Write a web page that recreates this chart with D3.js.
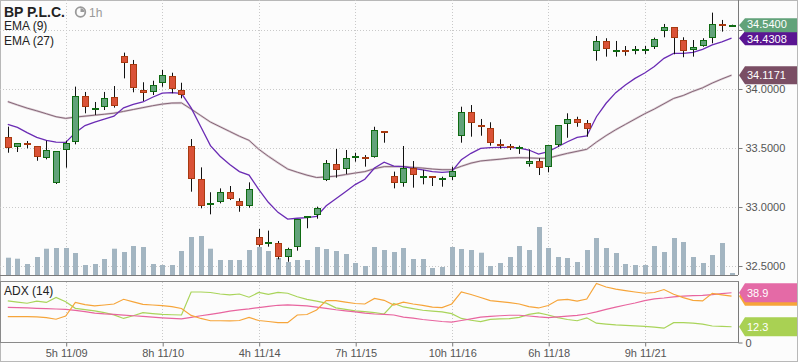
<!DOCTYPE html>
<html>
<head>
<meta charset="utf-8">
<script src="https://cdn.jsdelivr.net/npm/d3@7"></script>
<style>
  body { margin: 0; background: #fff; }
  svg { display: block; font-family: "Liberation Sans", Arial, sans-serif; }
</style>
</head>
<body>
<div id="graphic"></div>
<script>
// bp plc, 1h candles with ema(9), ema(27), volume and adx(14)
const tickIdx = [6, 16, 26, 36, 46, 56, 66];
const tickLabels = ["5h 11/09", "8h 11/10", "4h 11/14", "7h 11/15", "10h 11/16", "6h 11/18", "9h 11/21"];
const priceTicks = [32.5, 33.0, 33.5, 34.0, 34.5];

const opens = [33.591,33.506,33.540,33.514,33.413,33.200,33.483,33.548,33.938,33.835,
  33.845,33.930,34.280,34.212,33.992,33.972,34.048,34.110,33.992,33.517,
  33.237,33.014,33.045,33.130,33.048,33.003,32.748,32.690,32.692,32.574,
  32.658,32.907,32.930,33.229,33.362,33.319,33.418,33.424,33.426,33.644,
  33.263,33.200,33.328,33.252,33.260,33.235,33.252,33.602,33.803,33.695,
  33.667,33.531,33.517,33.497,33.358,33.387,33.333,33.525,33.701,33.743,
  33.709,34.316,34.404,34.314,34.330,34.325,34.322,34.353,34.486,34.523,
  34.413,34.325,34.367,34.430,34.551,34.535];
const highs = [33.681,33.540,33.559,33.517,33.562,33.474,33.562,34.020,33.975,33.890,
  33.975,34.025,34.308,34.246,34.057,34.070,34.161,34.138,34.053,33.576,
  33.336,33.125,33.158,33.178,33.074,33.209,32.814,32.800,32.712,32.655,
  32.896,32.924,33.003,33.398,33.492,33.483,33.460,33.440,33.680,33.644,
  33.300,33.517,33.390,33.314,33.260,33.257,33.342,33.850,33.864,33.746,
  33.718,33.574,33.534,33.520,33.489,33.413,33.523,33.692,33.794,33.765,
  33.737,34.449,34.430,34.407,34.364,34.364,34.364,34.435,34.551,34.523,
  34.438,34.415,34.430,34.647,34.585,34.545];
const lows = [33.460,33.466,33.497,33.392,33.404,33.195,33.333,33.531,33.794,33.780,
  33.822,33.842,34.090,33.972,33.898,33.949,34.019,33.964,33.921,33.130,
  32.989,32.938,33.031,33.059,32.960,32.994,32.664,32.664,32.557,32.536,
  32.630,32.820,32.901,33.220,33.248,33.280,33.384,33.342,33.418,33.545,
  33.158,33.172,33.164,33.192,33.178,33.172,33.229,33.545,33.596,33.604,
  33.520,33.494,33.483,33.450,33.342,33.271,33.294,33.511,33.587,33.680,
  33.596,34.240,34.274,34.274,34.282,34.294,34.297,34.339,34.438,34.294,
  34.269,34.274,34.358,34.387,34.486,34.533];
const closes = [33.494,33.540,33.523,33.421,33.480,33.472,33.540,33.938,33.845,33.840,
  33.921,33.850,34.218,34.006,33.964,34.034,34.119,33.997,33.947,33.235,
  33.011,33.031,33.130,33.074,33.003,33.150,32.684,32.703,32.574,32.642,
  32.896,32.924,32.989,33.370,33.308,33.413,33.430,33.412,33.653,33.630,
  33.200,33.328,33.265,33.263,33.250,33.243,33.305,33.803,33.709,33.684,
  33.540,33.519,33.506,33.511,33.387,33.328,33.523,33.692,33.746,33.709,
  33.658,34.404,34.336,34.330,34.316,34.339,34.339,34.421,34.523,34.430,
  34.316,34.353,34.415,34.548,34.540,34.540];
// volume in thousands of shares
const volumes = [346,326,220,360,526,540,540,440,200,220,
  320,526,460,580,560,220,200,200,480,760,
  780,526,300,300,300,500,560,480,340,260,
  300,300,560,520,480,420,240,180,560,500,
  460,540,320,320,140,160,560,520,500,446,
  180,240,360,580,500,960,540,360,340,260,
  500,740,540,440,220,200,200,580,460,740,
  660,360,240,400,640,40];
const ema9 = [33.700,33.675,33.630,33.590,33.565,33.550,33.548,33.630,33.690,33.720,
  33.745,33.770,33.840,33.870,33.890,33.930,33.965,33.970,33.962,33.840,
  33.680,33.520,33.430,33.360,33.300,33.270,33.150,33.040,32.955,32.898,
  32.905,32.910,32.920,33.010,33.070,33.130,33.190,33.235,33.330,33.380,
  33.347,33.342,33.328,33.314,33.300,33.294,33.300,33.400,33.455,33.497,
  33.503,33.505,33.506,33.500,33.483,33.449,33.469,33.511,33.553,33.590,
  33.602,33.765,33.879,33.969,34.034,34.090,34.135,34.190,34.260,34.302,
  34.302,34.310,34.336,34.373,34.400,34.4308];
const ema27 = [33.893,33.865,33.838,33.815,33.790,33.765,33.751,33.762,33.770,33.778,
  33.786,33.795,33.810,33.826,33.842,33.858,33.872,33.881,33.882,33.830,
  33.775,33.720,33.680,33.640,33.600,33.565,33.490,33.430,33.375,33.322,
  33.295,33.270,33.250,33.255,33.262,33.275,33.288,33.300,33.325,33.342,
  33.342,33.342,33.336,33.330,33.322,33.316,33.316,33.345,33.372,33.390,
  33.398,33.405,33.415,33.418,33.416,33.413,33.413,33.435,33.455,33.472,
  33.489,33.550,33.605,33.655,33.700,33.745,33.790,33.830,33.875,33.920,
  33.945,33.980,34.010,34.050,34.085,34.1171];
const adx = [27.4,27.2,27.0,26.7,26.5,26.2,25.9,25.1,24.1,23.0,
  22.4,22.0,21.4,20.9,20.4,19.8,19.3,18.8,18.4,19.7,
  20.9,22.0,23.2,24.5,25.5,26.3,27.3,28.2,29.1,29.4,
  29.0,28.6,27.7,26.7,25.6,24.8,23.9,23.0,22.3,22.0,
  21.5,19.9,19.0,18.0,17.2,16.4,15.9,17.2,18.5,19.9,
  20.5,20.9,21.3,21.3,20.7,20.0,19.5,20.0,20.6,21.2,
  22.3,24.0,25.9,27.7,29.3,30.9,32.8,34.1,34.8,35.7,
  36.3,36.6,36.8,37.4,38.2,38.9];
const plusDI = [20.2,20.2,20.2,20.1,19.5,18.2,20.7,31.3,29.6,28.6,
  29.3,30.1,33.8,31.8,29.8,29.3,28.8,28.1,26.6,21.2,
  18.8,17.0,17.0,16.9,17.2,19.6,17.2,16.4,15.6,15.5,
  21.5,21.9,25.4,32.7,32.7,31.6,30.5,30.1,34.4,33.0,
  29.3,31.5,30.1,29.0,27.6,27.3,30.1,39.5,37.5,35.2,
  32.7,32.0,31.2,30.1,28.1,27.0,28.9,33.2,33.7,32.3,
  34.0,46.1,43.4,41.8,40.6,39.5,38.5,39.1,41.4,37.7,
  35.1,33.0,32.5,38.4,37.3,36.2];
const minusDI = [32.5,31.6,30.7,32.3,31.3,35.2,31.8,26.7,25.7,24.7,
  23.4,21.6,18.8,20.9,23.3,22.6,22.0,21.7,21.5,39.5,
  39.5,39.1,37.9,37.3,37.9,35.4,39.1,37.7,39.2,38.5,
  35.8,33.7,32.4,30.8,27.1,25.9,24.8,24.2,23.3,22.3,
  30.5,27.8,26.5,25.2,24.6,24.0,22.6,18.8,17.4,16.3,
  18.1,18.4,18.7,19.7,22.0,23.2,21.5,19.5,18.0,17.0,
  19.3,15.1,14.4,13.8,13.4,13.0,12.6,12.0,11.2,15.5,
  15.5,15.1,14.4,12.9,12.6,12.3];

const bars = closes.map((c, i) => ({ i: i, o: opens[i], h: highs[i], l: lows[i], c: c, v: volumes[i] }));

const candleChart = {
  el: "#graphic",
  outerWidth: 798,
  outerHeight: 363,
  plotRight: 738,
  mainBottom: 275,
  adxTop: 282,
  adxBottom: 342.5,
  up: { fill: "#62a27a", stroke: "#0f6b12" },
  down: { fill: "#da5237", stroke: "#a83a10" },
  createScales(){
    this.x = d3.scaleLinear()
      .domain([-0.808, 75.67])
      .range([0, this.plotRight]);
    this.y = d3.scaleLinear()
      .domain([32.424, 34.754])
      .range([this.mainBottom, 0]);
    this.yVol = d3.scaleLinear()
      .domain([0, 960])
      .range([this.mainBottom, this.mainBottom - 48]);
    this.yAdx = d3.scaleLinear()
      .domain([0, 47.3])
      .range([this.adxBottom, this.adxTop]);
  },
  drawPlot(){
    document.querySelector(this.el).innerHTML = "";
    this.svg = d3.select(this.el)
      .append("svg")
      .attr("width", this.outerWidth)
      .attr("height", this.outerHeight);
    this.svg.append("rect")
      .attr("x", 0.5).attr("y", 0.5)
      .attr("width", this.outerWidth - 1).attr("height", 361)
      .attr("fill", "#fcfcfc")
      .attr("stroke", "#b8b8b8");
    this.svg.append("clipPath").attr("id", "mainClip")
      .append("rect").attr("x", 1).attr("y", 1)
      .attr("width", this.plotRight - 1).attr("height", this.mainBottom - 1);
  },
  drawGrid(){
    const that = this;
    const grid = this.svg.append("g")
      .attr("stroke", "#c9c9c9")
      .attr("stroke-dasharray", "1,2");
    grid.selectAll("line.h")
      .data(priceTicks)
      .enter().append("line")
      .attr("class", "h")
      .attr("x1", 0).attr("x2", this.plotRight)
      .attr("y1", d => Math.round(that.y(d)) + 0.5)
      .attr("y2", d => Math.round(that.y(d)) + 0.5);
    [[0, this.mainBottom], [this.adxTop, this.adxBottom]].forEach(function(span){
      grid.append("g").selectAll("line")
        .data(tickIdx)
        .enter().append("line")
        .attr("x1", d => Math.round(that.x(d)) + 0.5)
        .attr("x2", d => Math.round(that.x(d)) + 0.5)
        .attr("y1", span[0]).attr("y2", span[1]);
    });
  },
  drawVolume(){
    const that = this;
    this.svg.append("g")
      .attr("clip-path", "url(#mainClip)")
      .selectAll("rect")
      .data(bars)
      .enter().append("rect")
      .attr("x", d => Math.round(that.x(d.i)) - 2)
      .attr("width", 5)
      .attr("y", d => that.yVol(d.v))
      .attr("height", d => that.mainBottom - that.yVol(d.v))
      .attr("fill", "#a3b5c1");
  },
  drawLines(){
    const that = this;
    const g = this.svg.append("g").attr("clip-path", "url(#mainClip)").attr("fill", "none");
    const line = d3.line().x((d, i) => that.x(i)).y(d => that.y(d));
    g.append("path").attr("d", line(ema27))
      .attr("stroke", "#dccdd4").attr("stroke-width", 2.2);
    g.append("path").attr("d", line(ema27))
      .attr("stroke", "#866879").attr("stroke-width", 1);
    g.append("path").attr("d", line(ema9))
      .attr("stroke", "#6a2bb4").attr("stroke-width", 1.3);
  },
  drawCandles(){
    const that = this;
    const g = this.svg.append("g").attr("clip-path", "url(#mainClip)");
    const c = g.selectAll("g")
      .data(bars)
      .enter().append("g");
    c.append("line")
      .attr("x1", d => Math.round(that.x(d.i)) + 0.5)
      .attr("x2", d => Math.round(that.x(d.i)) + 0.5)
      .attr("y1", d => that.y(d.h))
      .attr("y2", d => that.y(d.l))
      .attr("stroke", "#111");
    c.append("rect")
      .attr("x", d => Math.round(that.x(d.i)) - 2.5)
      .attr("width", 6)
      .attr("y", d => Math.round(that.y(Math.max(d.o, d.c))) + 0.5)
      .attr("height", d => Math.max(1, Math.round(Math.abs(that.y(d.o) - that.y(d.c))) - 1))
      .attr("fill", d => d.c >= d.o ? that.up.fill : that.down.fill)
      .attr("stroke", d => d.c >= d.o ? that.up.stroke : that.down.stroke);
  },
  drawAdx(){
    const that = this;
    this.svg.append("rect")
      .attr("x", 0.5).attr("y", this.adxTop - 0.5)
      .attr("width", this.plotRight).attr("height", this.adxBottom - this.adxTop + 0.5)
      .attr("fill", "none").attr("stroke", "#8a8a8a");
    const line = d3.line().x((d, i) => that.x(i)).y(d => that.yAdx(d));
    const g = this.svg.append("g").attr("fill", "none").attr("stroke-width", 1.2);
    g.append("path").attr("d", line(minusDI)).attr("stroke", "#a9d45a");
    g.append("path").attr("d", line(adx)).attr("stroke", "#e8659f");
    g.append("path").attr("d", line(plusDI)).attr("stroke", "#f6a53a");
  },
  drawAxes(){
    const that = this;
    this.svg.append("line")
      .attr("x1", 0).attr("x2", this.plotRight)
      .attr("y1", this.mainBottom + 0.5).attr("y2", this.mainBottom + 0.5)
      .attr("stroke", "#7a7a7a");

    // the 34.5 label sits under the last price tag, so only its tick shows
    const lastClose = closes[closes.length - 1];
    const yAxis = d3.axisRight(this.y)
      .tickValues(priceTicks)
      .tickFormat(d => Math.abs(d - lastClose) < 0.1 ? "" : d3.format(".4f")(d))
      .tickSize(4)
      .tickSizeOuter(0);
    const ay = this.svg.append("g")
      .attr("class", "axis yaxis")
      .attr("transform", `translate(${this.plotRight + 0.5},0)`)
      .call(yAxis);

    const adxAxis = d3.axisRight(this.yAdx)
      .tickValues([0])
      .tickSize(4)
      .tickSizeOuter(0);
    const aa = this.svg.append("g")
      .attr("class", "axis adxaxis")
      .attr("transform", `translate(${this.plotRight + 0.5},0)`)
      .call(adxAxis);

    const xAxis = d3.axisBottom(this.x)
      .tickValues(tickIdx)
      .tickFormat((d, i) => tickLabels[i])
      .tickSize(4)
      .tickSizeOuter(0);
    const ax = this.svg.append("g")
      .attr("class", "axis xaxis")
      .attr("transform", `translate(0.5,${this.adxBottom})`)
      .call(xAxis);
    ax.select(".domain").remove();

    [ay, aa, ax].forEach(function(a){
      a.selectAll(".domain").attr("stroke", "#7a7a7a");
      a.selectAll(".tick line").attr("stroke", "#7a7a7a");
      a.selectAll(".tick text")
        .attr("fill", "#555")
        .style("font-size", "11px")
        .style("font-family", "'Liberation Sans', Arial, sans-serif");
    });
    ay.select(".domain").attr("d", `M0,0V${this.mainBottom}`);
    aa.select(".domain").attr("d", `M0,${this.adxTop}V${this.adxBottom}`);
  },
  tag(yPos, text, color, h, dy){
    const x0 = this.plotRight + 1, x1 = this.plotRight + 7, x2 = this.outerWidth - 1;
    const g = this.svg.append("g");
    g.append("path")
      .attr("d", `M${x0},${yPos}L${x1},${yPos - h / 2}H${x2}V${yPos + h / 2}H${x1}Z`)
      .attr("fill", color);
    // a tag that sits fully under another one keeps only its colour strip
    if (text) {
      g.append("text")
        .attr("x", x1 + 2).attr("y", yPos + 4 + (dy || 0))
        .attr("fill", "#fff")
        .style("font-size", "11px")
        .text(text);
    }
  },
  drawTags(){
    const last = closes.length - 1;
    const f4 = d3.format(".4f"), f1 = d3.format(".1f");
    this.tag(this.y(ema27[last]), f4(ema27[last]), "#7a4e64", 18);
    this.tag(this.y(ema9[last]), f4(ema9[last]), "#5a1592", 14, 0.5);
    this.tag(this.y(closes[last]), f4(closes[last]), closes[last] >= opens[last] ? "#62a27a" : "#da5237", 14, -1);
    this.tag(this.yAdx(plusDI[last]), null, "#f6a53a", 19);
    this.tag(this.yAdx(adx[last]), f1(adx[last]), "#e46aa6", 19);
    this.tag(this.yAdx(minusDI[last]), f1(minusDI[last]), "#a9d153", 19);
  },
  drawLegend(){
    const s = this.svg;
    s.append("text").attr("x", 4).attr("y", 17)
      .attr("fill", "#222").style("font-weight", "bold").style("font-size", "14px")
      .text("BP P.L.C.");
    s.append("circle").attr("cx", 80.5).attr("cy", 12).attr("r", 4.8)
      .attr("fill", "none").attr("stroke", "#9a9a9a").attr("stroke-width", 1.8);
    s.append("path").attr("d", "M80.5,12V8.2A3.8,3.8 0 0 1 84.3,12Z").attr("fill", "#9a9a9a");
    s.append("text").attr("x", 89).attr("y", 16.5)
      .attr("fill", "#999").style("font-size", "12px").text("1h");
    s.append("text").attr("x", 4).attr("y", 30)
      .attr("fill", "#222").style("font-size", "12px").text("EMA (9)");
    s.append("text").attr("x", 4).attr("y", 45)
      .attr("fill", "#222").style("font-size", "12px").text("EMA (27)");
    s.append("text").attr("x", 4).attr("y", 295)
      .attr("fill", "#222").style("font-size", "12px").text("ADX (14)");
  },
  draw(){
    this.createScales();
    this.drawPlot();
    this.drawGrid();
    this.drawVolume();
    this.drawLines();
    this.drawCandles();
    this.drawAdx();
    this.drawAxes();
    this.drawTags();
    this.drawLegend();
  }
};

candleChart.draw();
</script>
</body>
</html>
